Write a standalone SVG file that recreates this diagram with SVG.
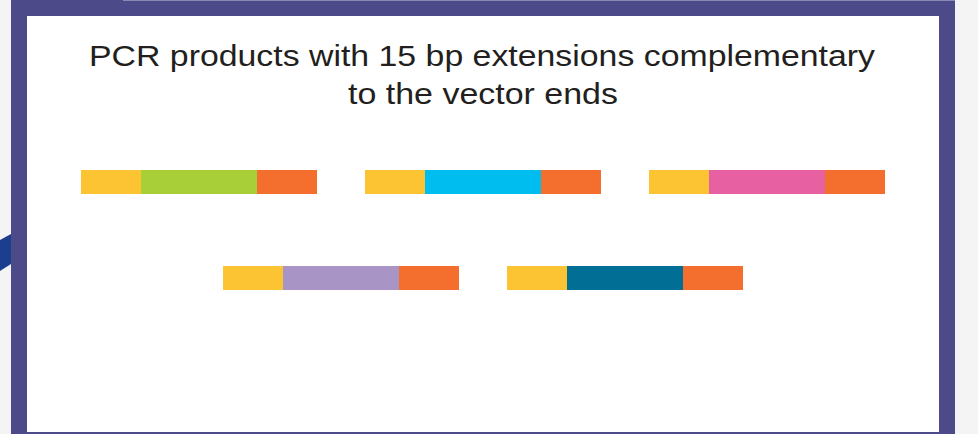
<svg xmlns="http://www.w3.org/2000/svg" width="978" height="434" viewBox="0 0 978 434">
  <style>
    .title { font-family: "Liberation Sans", Arial, sans-serif; font-size: 29.5px; fill: #231f20; text-anchor: middle; }
    .y { fill: #fcc433; }
    .o { fill: #f46f2e; }
  </style>
  <rect x="0" y="0" width="978" height="434" fill="#f4f4f4"/>
  <polygon points="0,240 11,234 11,264 0,271" fill="#1b3e8e"/>
  <rect x="11" y="0" width="944" height="434" fill="#4d4a8a"/>
  <rect x="123" y="0" width="832" height="1" fill="#8b88b4"/>
  <rect x="27" y="16" width="912" height="416" fill="#ffffff"/>
  <g id="title">
    <text class="title" x="482" y="66" textLength="786" lengthAdjust="spacingAndGlyphs">PCR products with 15 bp extensions complementary</text>
    <text class="title" x="483" y="104" textLength="270" lengthAdjust="spacingAndGlyphs">to the vector ends</text>
  </g>
  <g id="product1">
    <rect class="y" x="81" y="170" width="60" height="24"/>
    <rect x="141" y="170" width="116" height="24" fill="#a8cf38"/>
    <rect class="o" x="257" y="170" width="60" height="24"/>
  </g>
  <g id="product2">
    <rect class="y" x="365" y="170" width="60" height="24"/>
    <rect x="425" y="170" width="116" height="24" fill="#00bdf0"/>
    <rect class="o" x="541" y="170" width="60" height="24"/>
  </g>
  <g id="product3">
    <rect class="y" x="649" y="170" width="60" height="24"/>
    <rect x="709" y="170" width="116" height="24" fill="#e660a2"/>
    <rect class="o" x="825" y="170" width="60" height="24"/>
  </g>
  <g id="product4">
    <rect class="y" x="223" y="266" width="60" height="24"/>
    <rect x="283" y="266" width="116" height="24" fill="#a894c5"/>
    <rect class="o" x="399" y="266" width="60" height="24"/>
  </g>
  <g id="product5">
    <rect class="y" x="507" y="266" width="60" height="24"/>
    <rect x="567" y="266" width="116" height="24" fill="#006e95"/>
    <rect class="o" x="683" y="266" width="60" height="24"/>
  </g>
  <g id="connectors"></g>
</svg>
